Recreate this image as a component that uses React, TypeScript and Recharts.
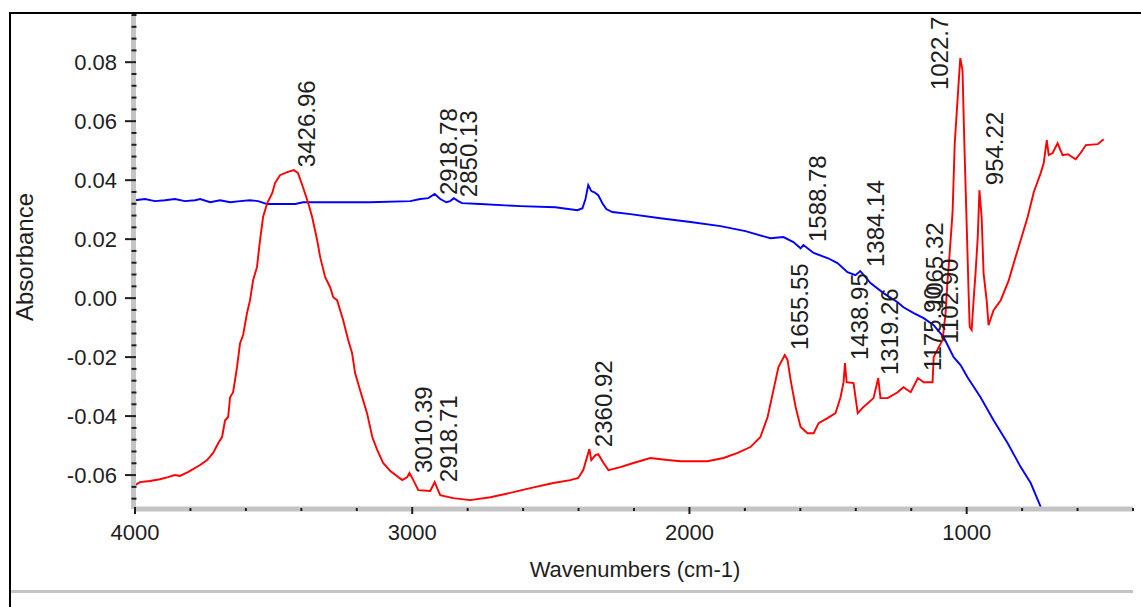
import { LabelList, Line, LineChart, XAxis, YAxis } from "recharts";

// red trace (sample) - wavenumber / absorbance pairs
const redWn = [
  4000, 3982, 3946, 3910, 3881, 3856, 3838, 3809, 3765, 3740, 3718, 3700, 3686, 3675, 3664, 3657,
  3646, 3632, 3621, 3610, 3596, 3585, 3574, 3560, 3549, 3538, 3523, 3505, 3495, 3477, 3451, 3427,
  3412, 3394, 3375, 3361, 3343, 3332, 3314, 3296, 3285, 3271, 3249, 3231, 3217, 3206, 3188, 3163,
  3144, 3126, 3105, 3079, 3036, 3018, 3010, 2996, 2978, 2935, 2919, 2912, 2899, 2852, 2791, 2718,
  2635, 2574, 2491, 2430, 2401, 2383, 2361, 2354, 2339, 2329, 2310, 2292, 2249, 2202, 2141, 2079,
  2032, 1935, 1877, 1826, 1780, 1744, 1718, 1697, 1679, 1656, 1646, 1635, 1617, 1599, 1574, 1552,
  1534, 1502, 1473, 1455, 1444, 1439, 1433, 1408, 1393, 1372, 1336, 1319, 1311, 1285, 1249, 1228,
  1202, 1176, 1155, 1123, 1119, 1087, 1076, 1069, 1065, 1051, 1043, 1029, 1023, 1015, 1008, 997,
  993, 989, 982, 975, 968, 960, 954, 946, 939, 928, 921, 903, 877, 848, 830, 805,
  780, 758, 733, 722, 711, 704, 690, 672, 654, 635, 607, 589, 570, 527, 506,
];
const redAbs = [
  -0.0634, -0.0624, -0.062, -0.0614, -0.0607, -0.06, -0.0603, -0.059, -0.0566, -0.0549, -0.0525, -0.0492, -0.0471, -0.0414, -0.0403, -0.0336,
  -0.0319, -0.0234, -0.0153, -0.0125, -0.0051, -0.0007, 0.0061, 0.0105, 0.0197, 0.0275, 0.0322, 0.0356, 0.039, 0.0417, 0.0427, 0.0434,
  0.0424, 0.0376, 0.0322, 0.0275, 0.0197, 0.0139, 0.0071, 0.0037, 0.0003, -0.0007, -0.0075, -0.0142, -0.0186, -0.0254, -0.0312, -0.039,
  -0.0471, -0.0515, -0.0559, -0.0586, -0.0617, -0.0607, -0.0593, -0.0617, -0.0651, -0.0654, -0.0624, -0.064, -0.0668, -0.0678, -0.0685, -0.0675,
  -0.0658, -0.0644, -0.0627, -0.0617, -0.061, -0.0583, -0.0512, -0.0549, -0.0532, -0.0529, -0.0559, -0.0583, -0.0573, -0.0559, -0.0542, -0.0549,
  -0.0553, -0.0553, -0.0542, -0.0525, -0.0505, -0.0471, -0.0403, -0.0312, -0.0234, -0.0193, -0.021, -0.0278, -0.0369, -0.0437, -0.0458, -0.0458,
  -0.0424, -0.0407, -0.039, -0.0336, -0.0285, -0.022, -0.0285, -0.0288, -0.039, -0.0369, -0.0339, -0.0271, -0.0339, -0.0339, -0.0319, -0.0302,
  -0.0319, -0.0271, -0.0285, -0.0285, -0.02, -0.0142, -0.0051, 0.0061, 0.0105, 0.0288, 0.0525, 0.0729, 0.0814, 0.0773, 0.0512, 0.0153,
  0.0017, -0.0098, -0.0108, -0.0007, 0.0085, 0.0207, 0.0366, 0.0275, 0.0085, -0.0007, -0.0092, -0.0041, -0.0007, 0.0061, 0.0119, 0.0197,
  0.0275, 0.0359, 0.0424, 0.0458, 0.0536, 0.0485, 0.0492, 0.0525, 0.0485, 0.0488, 0.0471, 0.0492, 0.0519, 0.0522, 0.0539,
];

// blue trace (reference)
const blueWn = [
  4000, 3964, 3928, 3892, 3856, 3820, 3783, 3765, 3729, 3693, 3657, 3621, 3585, 3556, 3523, 3422,
  3394, 3296, 3152, 3007, 2971, 2942, 2919, 2899, 2877, 2863, 2850, 2834, 2820, 2755, 2610, 2484,
  2404, 2386, 2375, 2365, 2354, 2343, 2329, 2314, 2300, 2278, 2213, 2105, 1996, 1888, 1798, 1708,
  1661, 1625, 1599, 1589, 1552, 1502, 1466, 1430, 1401, 1384, 1365, 1347, 1300, 1249, 1228, 1191,
  1155, 1119, 1083, 1069, 1047, 1022, 997, 950, 903, 852, 805, 769, 733, 715,
];
const blueAbs = [
  0.0332, 0.0336, 0.0329, 0.0332, 0.0336, 0.0329, 0.0332, 0.0336, 0.0325, 0.0332, 0.0325, 0.0329, 0.0332, 0.0329, 0.0319, 0.0319,
  0.0325, 0.0325, 0.0325, 0.0329, 0.0336, 0.0339, 0.0353, 0.0336, 0.0325, 0.0329, 0.0339, 0.0329, 0.0322, 0.0319, 0.0312, 0.0308,
  0.0298, 0.0305, 0.0336, 0.0383, 0.0363, 0.0359, 0.0349, 0.0322, 0.0302, 0.0292, 0.0285, 0.0271, 0.0258, 0.0244, 0.0227, 0.0203,
  0.0207, 0.019, 0.0169, 0.018, 0.0153, 0.0136, 0.0119, 0.0088, 0.0078, 0.0092, 0.0071, 0.0051, 0.0017, -0.0014, -0.0031, -0.0051,
  -0.0068, -0.0092, -0.0132, -0.0159, -0.02, -0.0227, -0.0268, -0.0336, -0.0414, -0.0492, -0.0573, -0.0627, -0.0708, -0.0742,
];

// picked peaks
const redPeakWn = [3426.96, 3010.39, 2918.71, 2360.92, 1655.55, 1438.95, 1319.26, 1175.9, 1102.9, 1065.32, 1022.7, 954.22];
const redPeakAbs = [0.0434, -0.0593, -0.0624, -0.0512, -0.0193, -0.022, -0.0271, -0.0271, -0.0171, 0.0105, 0.0814, 0.0366];
const redPeakText = ["3426.96", "3010.39", "2918.71", "2360.92", "1655.55", "1438.95", "1319.26", "1175.90", "1102.90", "1065.32", "1022.7", "954.22"];

const bluePeakWn = [2918.78, 2850.13, 1588.78, 1384.14];
const bluePeakAbs = [0.0353, 0.0339, 0.018, 0.0092];
const bluePeakText = ["2918.78", "2850.13", "1588.78", "1384.14"];

const xTicks = [4000, 3800, 3600, 3400, 3200, 3000, 2800, 2600, 2400, 2200, 2000, 1800, 1600, 1400, 1200, 1000, 800, 600, 400];
const xMajor = [4000, 3000, 2000, 1000];
const yMajor = [-0.06, -0.04, -0.02, 0, 0.02, 0.04, 0.06, 0.08];

// minor y ticks every 0.004
const yTicks: number[] = [];
for (let i = -17; i <= 24; i++) yTicks.push(Math.round(i * 4) / 1000);

const redData = redWn.map((wn, i) => ({ wn, a: redAbs[i] }));
const blueData = blueWn.map((wn, i) => ({ wn, a: blueAbs[i] }));
const redPeaks = redPeakWn.map((wn, i) => ({ wn, a: redPeakAbs[i], label: redPeakText[i] }));
const bluePeaks = bluePeakWn.map((wn, i) => ({ wn, a: bluePeakAbs[i], label: bluePeakText[i] }));

// label placement relative to the peak point (baseline start of the rotated text)
const labelOffset: Record<string, [number, number]> = {
  "3426.96": [21, -3],
  "3010.39": [23, 0],
  "2918.71": [22, 0],
  "2360.92": [23, -2],
  "1655.55": [23, -5],
  "1438.95": [23, -3],
  "1319.26": [20, -3],
  "1175.90": [23, -7],
  "1102.90": [20, -5],
  "1065.32": [-6, 42],
  "1022.7": [-12, 32],
  "954.22": [24, -5],
  "2918.78": [22, 1],
  "2850.13": [23, -1],
  "1588.78": [23, -3],
  "1384.14": [24, -4],
};

const FONT = "'Liberation Sans', Arial, Helvetica, sans-serif";
const INK = "#1e1e1e";
const BAR = "#c4c4c4";
const W = 1141;
const H = 607;
const PLOT_LEFT = 135;
const PLOT_BOTTOM = 509;

function YTick(props: any) {
  const { y, payload } = props;
  const v = payload.value as number;
  const major = yMajor.some((t) => Math.abs(t - v) < 1e-9);
  if (!major) {
    return <rect x={PLOT_LEFT - 3.5} y={y - 1} width={5} height={2} fill={INK} />;
  }
  return (
    <g>
      <line x1={PLOT_LEFT - 10} x2={PLOT_LEFT + 1} y1={y} y2={y} stroke={INK} strokeWidth={2} />
      <text x={117} y={y} dy="0.36em" textAnchor="end" fontSize={22} fontFamily={FONT} fill={INK}>
        {v.toFixed(2)}
      </text>
    </g>
  );
}

function XTick(props: any) {
  const { x, payload } = props;
  const v = payload.value as number;
  if (!xMajor.includes(v)) {
    return <rect x={x - 1} y={PLOT_BOTTOM - 1} width={2} height={3} fill={INK} />;
  }
  return (
    <g>
      <line x1={x} x2={x} y1={PLOT_BOTTOM - 2} y2={PLOT_BOTTOM + 5} stroke={INK} strokeWidth={2} />
      <text x={x} y={540} textAnchor="middle" fontSize={22} fontFamily={FONT} fill={INK}>
        {v}
      </text>
    </g>
  );
}

function PeakLabel(props: any) {
  const vb = props.viewBox || {};
  const px = props.x ?? vb.x;
  const py = props.y ?? vb.y;
  if (px == null || py == null) return null;
  const text = String(props.value);
  const [dx, dy] = labelOffset[text] ?? [22, -3];
  const bx = px + dx;
  const by = py + dy;
  return (
    <text
      x={bx}
      y={by}
      transform={`rotate(-90 ${bx} ${by})`}
      fontSize={24}
      fontFamily={FONT}
      fill={INK}
    >
      {text}
    </text>
  );
}

export default function App() {
  return (
    <div style={{ position: "absolute", left: 0, top: 0, width: W, height: H, background: "#fff" }}>
      <LineChart width={W} height={H} margin={{ top: 15, right: 8, bottom: 0, left: 0 }}>
        <XAxis
          type="number"
          dataKey="wn"
          domain={[400, 4000]}
          reversed
          allowDataOverflow
          ticks={xTicks}
          interval={0}
          height={98}
          tickLine={false}
          axisLine={{ stroke: BAR, strokeWidth: 5 }}
          tick={<XTick />}
        />
        <YAxis
          type="number"
          domain={[-0.0715, 0.096]}
          allowDataOverflow
          ticks={yTicks}
          interval={0}
          width={135}
          tickLine={false}
          axisLine={{ stroke: BAR, strokeWidth: 5, transform: "translate(-1.5 0)" }}
          tick={<YTick />}
        />
        <Line
          data={blueData}
          dataKey="a"
          stroke="#0000ff"
          strokeWidth={1.9}
          dot={false}
          activeDot={false}
          type="linear"
          isAnimationActive={false}
        />
        <Line
          data={redData}
          dataKey="a"
          stroke="#ff0000"
          strokeWidth={1.9}
          dot={false}
          activeDot={false}
          type="linear"
          isAnimationActive={false}
        />
        <Line
          data={redPeaks}
          dataKey="a"
          stroke="none"
          dot={false}
          activeDot={false}
          legendType="none"
          isAnimationActive={false}
        >
          <LabelList dataKey="label" content={PeakLabel} />
        </Line>
        <Line
          data={bluePeaks}
          dataKey="a"
          stroke="none"
          dot={false}
          activeDot={false}
          legendType="none"
          isAnimationActive={false}
        >
          <LabelList dataKey="label" content={PeakLabel} />
        </Line>
      </LineChart>
      <svg
        width={W}
        height={H}
        style={{ position: "absolute", left: 0, top: 0, pointerEvents: "none" }}
      >
        <rect x={9} y={12} width={W - 9} height={2} fill="#000" />
        <rect x={9} y={12} width={2} height={H - 12} fill="#000" />
        <rect x={11} y={590} width={1122} height={3} fill={BAR} />
        <text
          x={33}
          y={257}
          transform="rotate(-90 33 257)"
          textAnchor="middle"
          fontSize={24}
          fontFamily={FONT}
          fill={INK}
        >
          Absorbance
        </text>
        <text x={635} y={577} textAnchor="middle" fontSize={22} fontFamily={FONT} fill={INK}>
          Wavenumbers (cm-1)
        </text>
      </svg>
    </div>
  );
}
